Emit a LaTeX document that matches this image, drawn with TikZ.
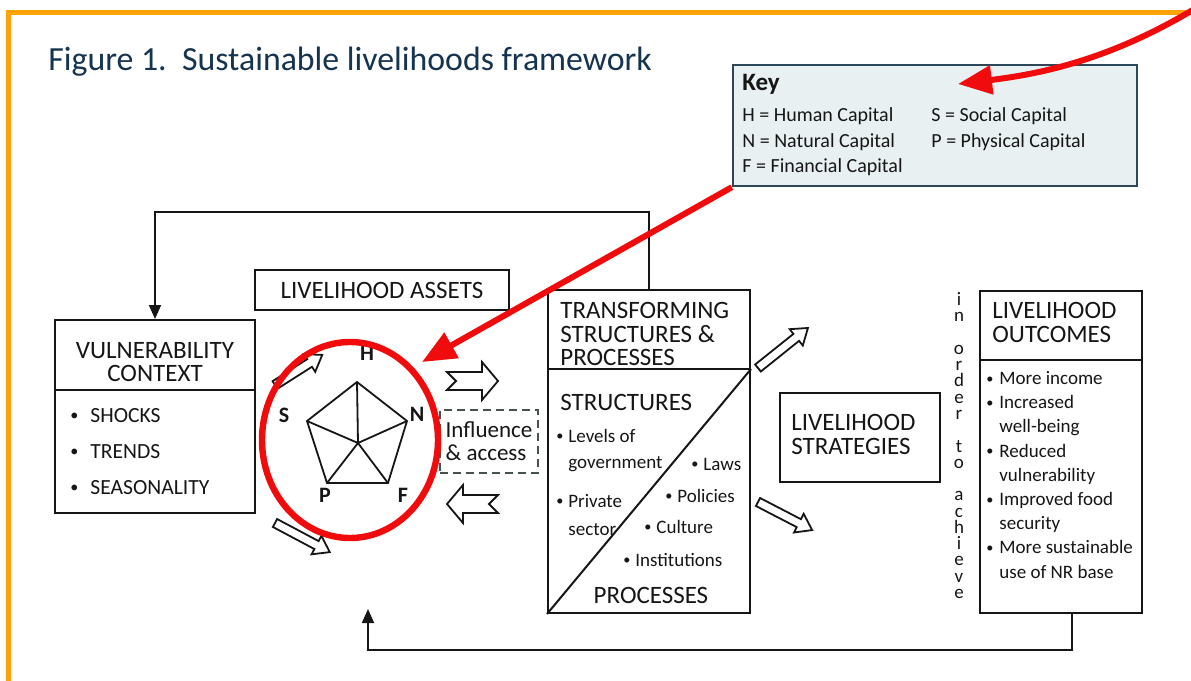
\documentclass[tikz,border=0pt]{standalone}
\usepackage{fontspec}
\setmainfont{Carlito}
\usepackage{graphicx}
\usepackage{tikz}
\usetikzlibrary{arrows.meta, positioning, calc}
\definecolor{myorange}{RGB}{255,163,0}
\definecolor{myred}{RGB}{240,12,12}
\definecolor{myink}{RGB}{22,22,22}
\definecolor{mynavy}{RGB}{22,52,80}
\definecolor{keyfill}{RGB}{232,240,242}
\definecolor{keyline}{RGB}{45,70,88}
\definecolor{dashgray}{RGB}{70,82,78}
\newcommand{\bul}[1][6pt]{\makebox[#1][l]{\raisebox{0.15ex}{\scalebox{0.75}{\textbullet}}}}
\tikzset{
  box/.style={rectangle, draw=myink, line width=1pt, inner sep=0pt},
  boxline/.style={draw=myink, line width=1pt},
  keybox/.style={rectangle, draw=keyline, fill=keyfill, line width=1.2pt, inner sep=0pt},
  heading/.style={font=\fontsize{12.5}{11.75}\selectfont, text=myink, inner sep=0pt, align=left},
  capsitems/.style={font=\fontsize{10.8}{18}\selectfont, text=myink, inner sep=0pt, align=left},
  items/.style={font=\fontsize{9.5}{12.1}\selectfont, text=myink, inner sep=0pt, align=left},
  keytext/.style={font=\fontsize{10}{12}\selectfont, text=myink, inner sep=0pt},
  titletext/.style={font=\fontsize{16.9}{18}\selectfont, text=mynavy, inner sep=0pt},
  pentlabel/.style={font=\bfseries\fontsize{11}{11}\selectfont, text=myink, inner sep=0pt},
  pentline/.style={draw=myink, line width=0.9pt, line join=miter},
  dashbox/.style={rectangle, draw=dashgray, dash pattern=on 4pt off 2.5pt, line width=0.9pt,
    inner sep=0pt, align=left, font=\fontsize{11.5}{11.5}\selectfont, text=myink},
  vertword/.style={font=\fontsize{9.5}{8.14}\selectfont, text=myink, inner sep=0pt, align=center},
  hollow/.style={draw=myink, fill=white, line width=0.9pt, line join=miter},
  flow/.style={draw=myink, line width=0.9pt, -{Triangle[length=7pt,width=6pt]}},
  redarrow/.style={draw=myred, line width=3pt, -{Triangle[length=17pt,width=14pt]}},
  frame/.style={draw=myorange, line width=2.5pt},
  % block arrow with a notched tail
  notcharrow/.pic={\draw[hollow] (0,-9) -- (35,-9) -- (35,-19) -- (51,0) -- (35,19) -- (35,9) -- (0,9) -- (9,0) -- cycle;},
  % thin hollow arrow, length as argument
  thinarrow/.pic={\draw[hollow] (0,-4.5) -- (#1-15,-4.5) -- (#1-15,-10.5) -- (#1,0) -- (#1-15,10.5) -- (#1-15,4.5) -- (0,4.5) -- cycle;}
}

\begin{document}
\begin{tikzpicture}[x=0.5pt, y=-0.5pt]
  \useasboundingbox (0,0) rectangle (1191,681);
  \fill[white] (0,0) rectangle (1191,681);
  \draw[frame] (8,681) -- (8,12) -- (1191,12);

  \node[titletext, anchor=base west] (figtitle) at (48,70) {Figure 1.\ \ Sustainable livelihoods framework};

  % key
  \node[keybox, minimum width=202pt, minimum height=60.5pt] (key) at (935,125.5) {};
  \node[keytext, font=\bfseries\fontsize{12.5}{12}\selectfont, anchor=base west] (keyword) at (742,90) {Key};
  \node[keytext, anchor=base west] (keyh) at (742,121) {H = Human Capital};
  \node[keytext, anchor=base west] (keyn) at (742,147) {N = Natural Capital};
  \node[keytext, anchor=base west] (keyf) at (742,172) {F = Financial Capital};
  \node[keytext, anchor=base west] (keys) at (931,121) {S = Social Capital};
  \node[keytext, anchor=base west] (keyp) at (931,147) {P = Physical Capital};

  % vulnerability context
  \node[box, minimum width=100pt, minimum height=96.5pt] (vuln) at (155,416.5) {};
  \draw[boxline] ([yshift=-35.5pt]vuln.north west) -- ([yshift=-35.5pt]vuln.north east);
  \node[heading, font=\fontsize{12.5}{11.5}\selectfont, align=center, anchor=north] (vulntitle) at (155,342) {VULNERABILITY\\CONTEXT};
  \node[capsitems, anchor=north west] (vulnitems) at (70,408) {\bul[10pt]SHOCKS\\\bul[10pt]TRENDS\\\bul[10pt]SEASONALITY};

  % livelihood assets
  \node[box, minimum width=127pt, minimum height=20pt, font=\fontsize{12.5}{12}\selectfont, text=myink] (assets) at (382,290) {LIVELIHOOD ASSETS};

  \coordinate (ph) at (357,382);
  \coordinate (pn) at (407,421);
  \coordinate (pf) at (388,483);
  \coordinate (pp) at (327,483);
  \coordinate (ps) at (307,421);
  \coordinate (pc) at (358,443);
  \draw[pentline] (ph) -- (pn) -- (pf) -- (pp) -- (ps) -- cycle;
  \foreach \v in {ph,pn,pf,pp,ps}
    \draw[pentline] (pc) -- (\v);
  \node[pentlabel] (lh) at (367,353) {H};
  \node[pentlabel] (ln) at (417,414) {N};
  \node[pentlabel] (lf) at (403,495) {F};
  \node[pentlabel] (lp) at (325,495) {P};
  \node[pentlabel] (ls) at (284,415) {S};

  \node[dashbox, minimum width=49pt, minimum height=31.5pt] (influence) at (489,441.5) {Influence\\\& access};

  % hollow arrows
  \pic[rotate=32.5] at (275,385) {thinarrow=56};
  \pic[rotate=-28] at (275,523) {thinarrow=62};
  \pic at (447,381) {notcharrow};
  \pic[rotate=180] at (498,504) {notcharrow};
  \pic[rotate=38.7] at (758,368) {thinarrow=64};
  \pic[rotate=-27.4] at (758,502) {thinarrow=61};

  % transforming structures and processes
  \node[box, minimum width=101pt, minimum height=161.5pt] (trans) at (649,451.5) {};
  \draw[boxline] ([yshift=-40pt]trans.north west) -- ([yshift=-40pt]trans.north east);
  \draw[boxline] (trans.south west) -- ([yshift=-40pt]trans.north east);
  \node[heading, anchor=north west] (transtitle) at (560,302) {TRANSFORMING\\STRUCTURES \&\\PROCESSES};
  \node[heading, anchor=base west] (structs) at (560,410) {STRUCTURES};
  \node[items, anchor=base west] (lev) at (556,442) {\bul[6pt]Levels of};
  \node[items, anchor=base west] (gov) at (568,468) {government};
  \node[items, anchor=base west] (priv) at (556,507) {\bul[6pt]Private};
  \node[items, anchor=base west] (sect) at (568,535) {sector};
  \node[items, anchor=base west] (laws) at (691,470) {\bul[6pt]Laws};
  \node[items, anchor=base west] (pol) at (665,502) {\bul[6pt]Policies};
  \node[items, anchor=base west] (cult) at (644,533) {\bul[6pt]Culture};
  \node[items, anchor=base west] (inst) at (623,566) {\bul[6pt]Institutions};
  \node[heading, anchor=base] (procs) at (651,603) {PROCESSES};

  % livelihood strategies
  \node[box, minimum width=80pt, minimum height=44.5pt] (strat) at (860,437) {};
  \node[heading, anchor=north west] (strattitle) at (791,414) {LIVELIHOOD\\STRATEGIES};

  \node[vertword, anchor=north] (inorder) at (959,292) {i\\n\\\mbox{}\\o\\r\\d\\e\\r\\\mbox{}\\t\\o\\\mbox{}\\a\\c\\h\\i\\e\\v\\e};

  % livelihood outcomes
  \node[box, minimum width=81pt, minimum height=161.3pt] (outc) at (1061,452) {};
  \draw[boxline] ([yshift=-35pt]outc.north west) -- ([yshift=-35pt]outc.north east);
  \node[heading, font=\fontsize{12.5}{11.7}\selectfont, anchor=north west] (outctitle) at (992,302) {LIVELIHOOD\\OUTCOMES};
  \node[items, anchor=north west] (outcitems) at (986,371) {\bul[6.5pt]More income\\\bul[6.5pt]Increased\\\hspace*{6.5pt}well-being\\\bul[6.5pt]Reduced\\\hspace*{6.5pt}vulnerability\\\bul[6.5pt]Improved food\\\hspace*{6.5pt}security\\\bul[6.5pt]More sustainable\\\hspace*{6.5pt}use of NR base};

  % feedback lines
  \coordinate (assetsfoot) at (368,609);
  \draw[flow] (trans.north) -- ++(0,-77) -| (vuln.north);
  \draw[flow] ([xshift=5.5pt]outc.south) -- ++(0,36) -| (assetsfoot);

  % red marks
  \draw[myred, line width=3.2pt] (350,440) ellipse [x radius=44pt, y radius=49pt];
  \coordinate (ringtip) at (422,362);
  \coordinate (keyspot) at (958,84);
  \draw[redarrow] (key.south west) -- (ringtip);
  \draw[redarrow] (1196,8) .. controls (1110,60) and (1040,74) .. (keyspot);
\end{tikzpicture}
\end{document}
